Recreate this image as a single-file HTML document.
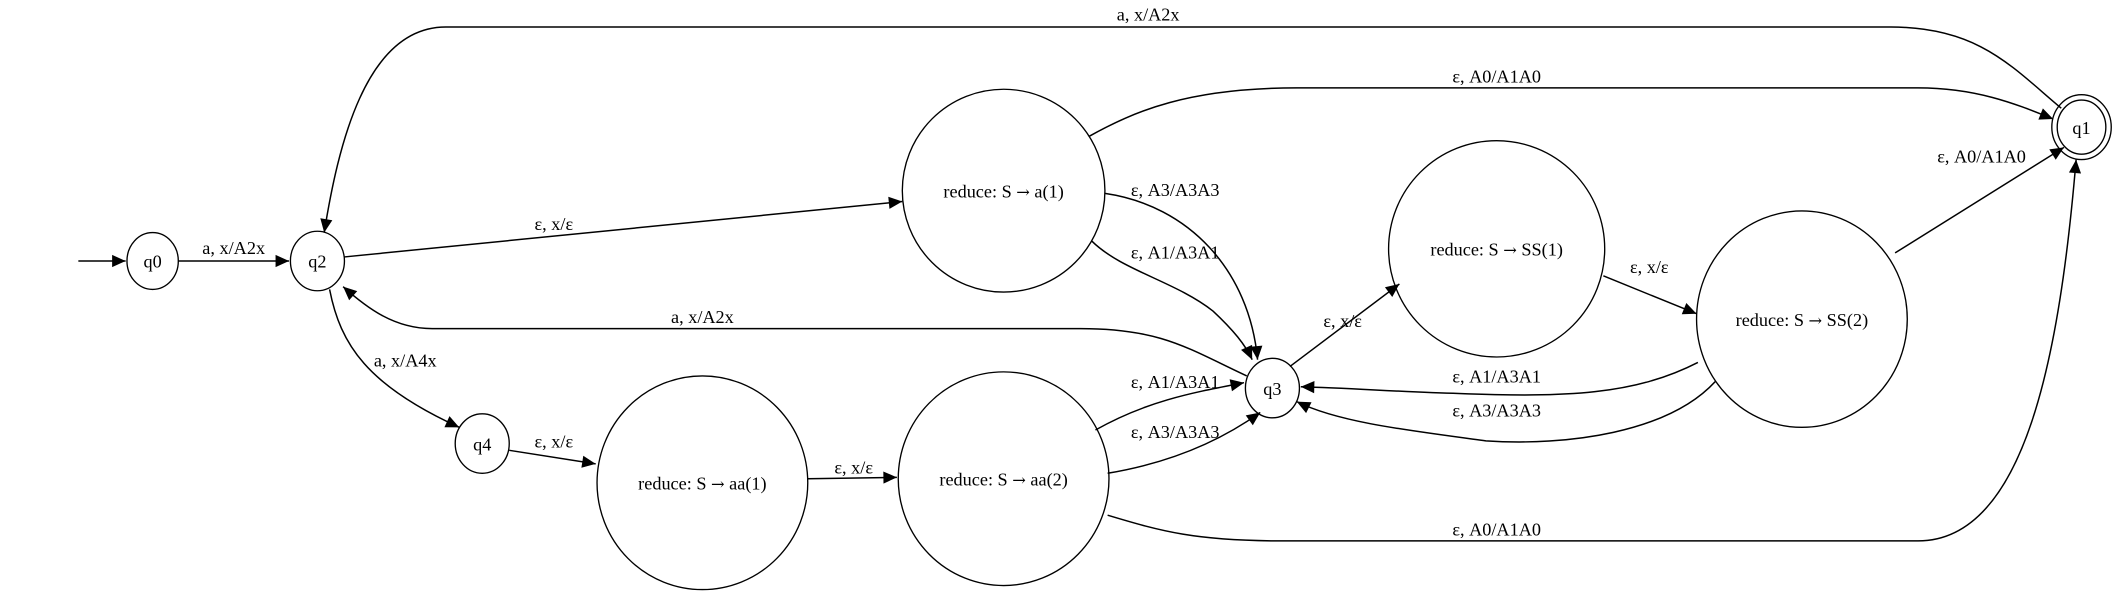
<!DOCTYPE html>
<html><head><meta charset="utf-8"><style>
html,body{margin:0;padding:0;background:#fff;width:2118px;height:595px;overflow:hidden}
svg{display:block}
text{font-family:"Liberation Serif",serif;font-size:13.5px;fill:#000;text-anchor:middle}
.ar{font-family:"DejaVu Serif",serif;font-size:12px}
.n{fill:none;stroke:#000;stroke-width:1}
.e{fill:none;stroke:#000;stroke-width:1.1}
</style></head><body>
<svg width="2118" height="595" viewBox="0 0 1568 440" preserveAspectRatio="none">
<defs><marker id="ar" viewBox="0 0 10 10" refX="10" refY="5" markerWidth="11" markerHeight="10" markerUnits="userSpaceOnUse" orient="auto"><path d="M0,0.5 L10,5 L0,9.5 z" fill="#000"/></marker></defs>

<g><path class="e" d="M58,193 L93,193" marker-end="url(#ar)"/></g>

<g><ellipse class="n" cx="113" cy="193" rx="19" ry="21"/><text x="113" y="198">q0</text></g>
<g><ellipse class="n" cx="235" cy="193" rx="20" ry="22"/><text x="235" y="198">q2</text></g>
<g><ellipse class="n" cx="357" cy="328" rx="20" ry="22"/><text x="357" y="333">q4</text></g>
<g><ellipse class="n" cx="743" cy="141" rx="75" ry="75"/><text x="743" y="146">reduce: S <tspan class="ar">→</tspan> a(1)</text></g>
<g><ellipse class="n" cx="520" cy="357" rx="78" ry="79"/><text x="520" y="362">reduce: S <tspan class="ar">→</tspan> aa(1)</text></g>
<g><ellipse class="n" cx="743" cy="354" rx="78" ry="79"/><text x="743" y="359">reduce: S <tspan class="ar">→</tspan> aa(2)</text></g>
<g><ellipse class="n" cx="942" cy="287" rx="20" ry="22"/><text x="942" y="292">q3</text></g>
<g><ellipse class="n" cx="1108" cy="184" rx="80" ry="80"/><text x="1108" y="189">reduce: S <tspan class="ar">→</tspan> SS(1)</text></g>
<g><ellipse class="n" cx="1334" cy="236" rx="78" ry="80"/><text x="1334" y="241">reduce: S <tspan class="ar">→</tspan> SS(2)</text></g>
<g><ellipse class="n" cx="1541" cy="94" rx="22" ry="24"/><ellipse class="n" cx="1541" cy="94" rx="18" ry="20"/><text x="1541" y="99">q1</text></g>

<g><path class="e" d="M132,193 L214,193" marker-end="url(#ar)"/><text x="173" y="188">a, x/A2x</text></g>
<g><path class="e" d="M1526,80 C1490,50 1465,20 1400,20 L330,20 C270,20 250,110 240,172" marker-end="url(#ar)"/><text x="850" y="15">a, x/A2x</text></g>
<g><path class="e" d="M255,190 L668,149" marker-end="url(#ar)"/><text x="410" y="170">ε, x/ε</text></g>
<g><path class="e" d="M806,101 C840,82 880,65 960,65 L1420,65 C1465,65 1495,78 1520,88" marker-end="url(#ar)"/><text x="1108" y="61">ε, A0/A1A0</text></g>
<g><path class="e" d="M818,143 C880,152 925,200 931,266" marker-end="url(#ar)"/><text x="870" y="145">ε, A3/A3A3</text></g>
<g><path class="e" d="M808,178 C830,200 870,208 898,230 C913,244 922,255 927,266" marker-end="url(#ar)"/><text x="870" y="191">ε, A1/A3A1</text></g>
<g><path class="e" d="M923,278 C880,258 860,243 800,243 L320,243 C292,243 272,228 254,212" marker-end="url(#ar)"/><text x="520" y="239">a, x/A2x</text></g>
<g><path class="e" d="M244,214 C252,255 272,285 340,316" marker-end="url(#ar)"/><text x="300" y="271">a, x/A4x</text></g>
<g><path class="e" d="M377,333 L441,343" marker-end="url(#ar)"/><text x="410" y="331">ε, x/ε</text></g>
<g><path class="e" d="M598,354 L664,353" marker-end="url(#ar)"/><text x="632" y="350">ε, x/ε</text></g>
<g><path class="e" d="M811,318 C850,296 885,290 921,283" marker-end="url(#ar)"/><text x="870" y="287">ε, A1/A3A1</text></g>
<g><path class="e" d="M820,350 C868,342 905,325 933,305" marker-end="url(#ar)"/><text x="870" y="324">ε, A3/A3A3</text></g>
<g><path class="e" d="M820,381 C860,393 885,400 950,400 L1420,400 C1500,400 1525,260 1537,118" marker-end="url(#ar)"/><text x="1108" y="396">ε, A0/A1A0</text></g>
<g><path class="e" d="M955,271 L1036,210" marker-end="url(#ar)"/><text x="994" y="242">ε, x/ε</text></g>
<g><path class="e" d="M1187,204 L1256,232" marker-end="url(#ar)"/><text x="1221" y="202">ε, x/ε</text></g>
<g><path class="e" d="M1403,187 L1528,109" marker-end="url(#ar)"/><text x="1467" y="120">ε, A0/A1A0</text></g>
<g><path class="e" d="M1257,268 C1210,292 1160,294 1080,291 C1040,290 1000,287 963,286" marker-end="url(#ar)"/><text x="1108" y="283">ε, A1/A3A1</text></g>
<g><path class="e" d="M1270,282 C1235,320 1160,330 1100,326 C1040,318 990,312 960,297" marker-end="url(#ar)"/><text x="1108" y="308">ε, A3/A3A3</text></g>
</svg>
</body></html>
